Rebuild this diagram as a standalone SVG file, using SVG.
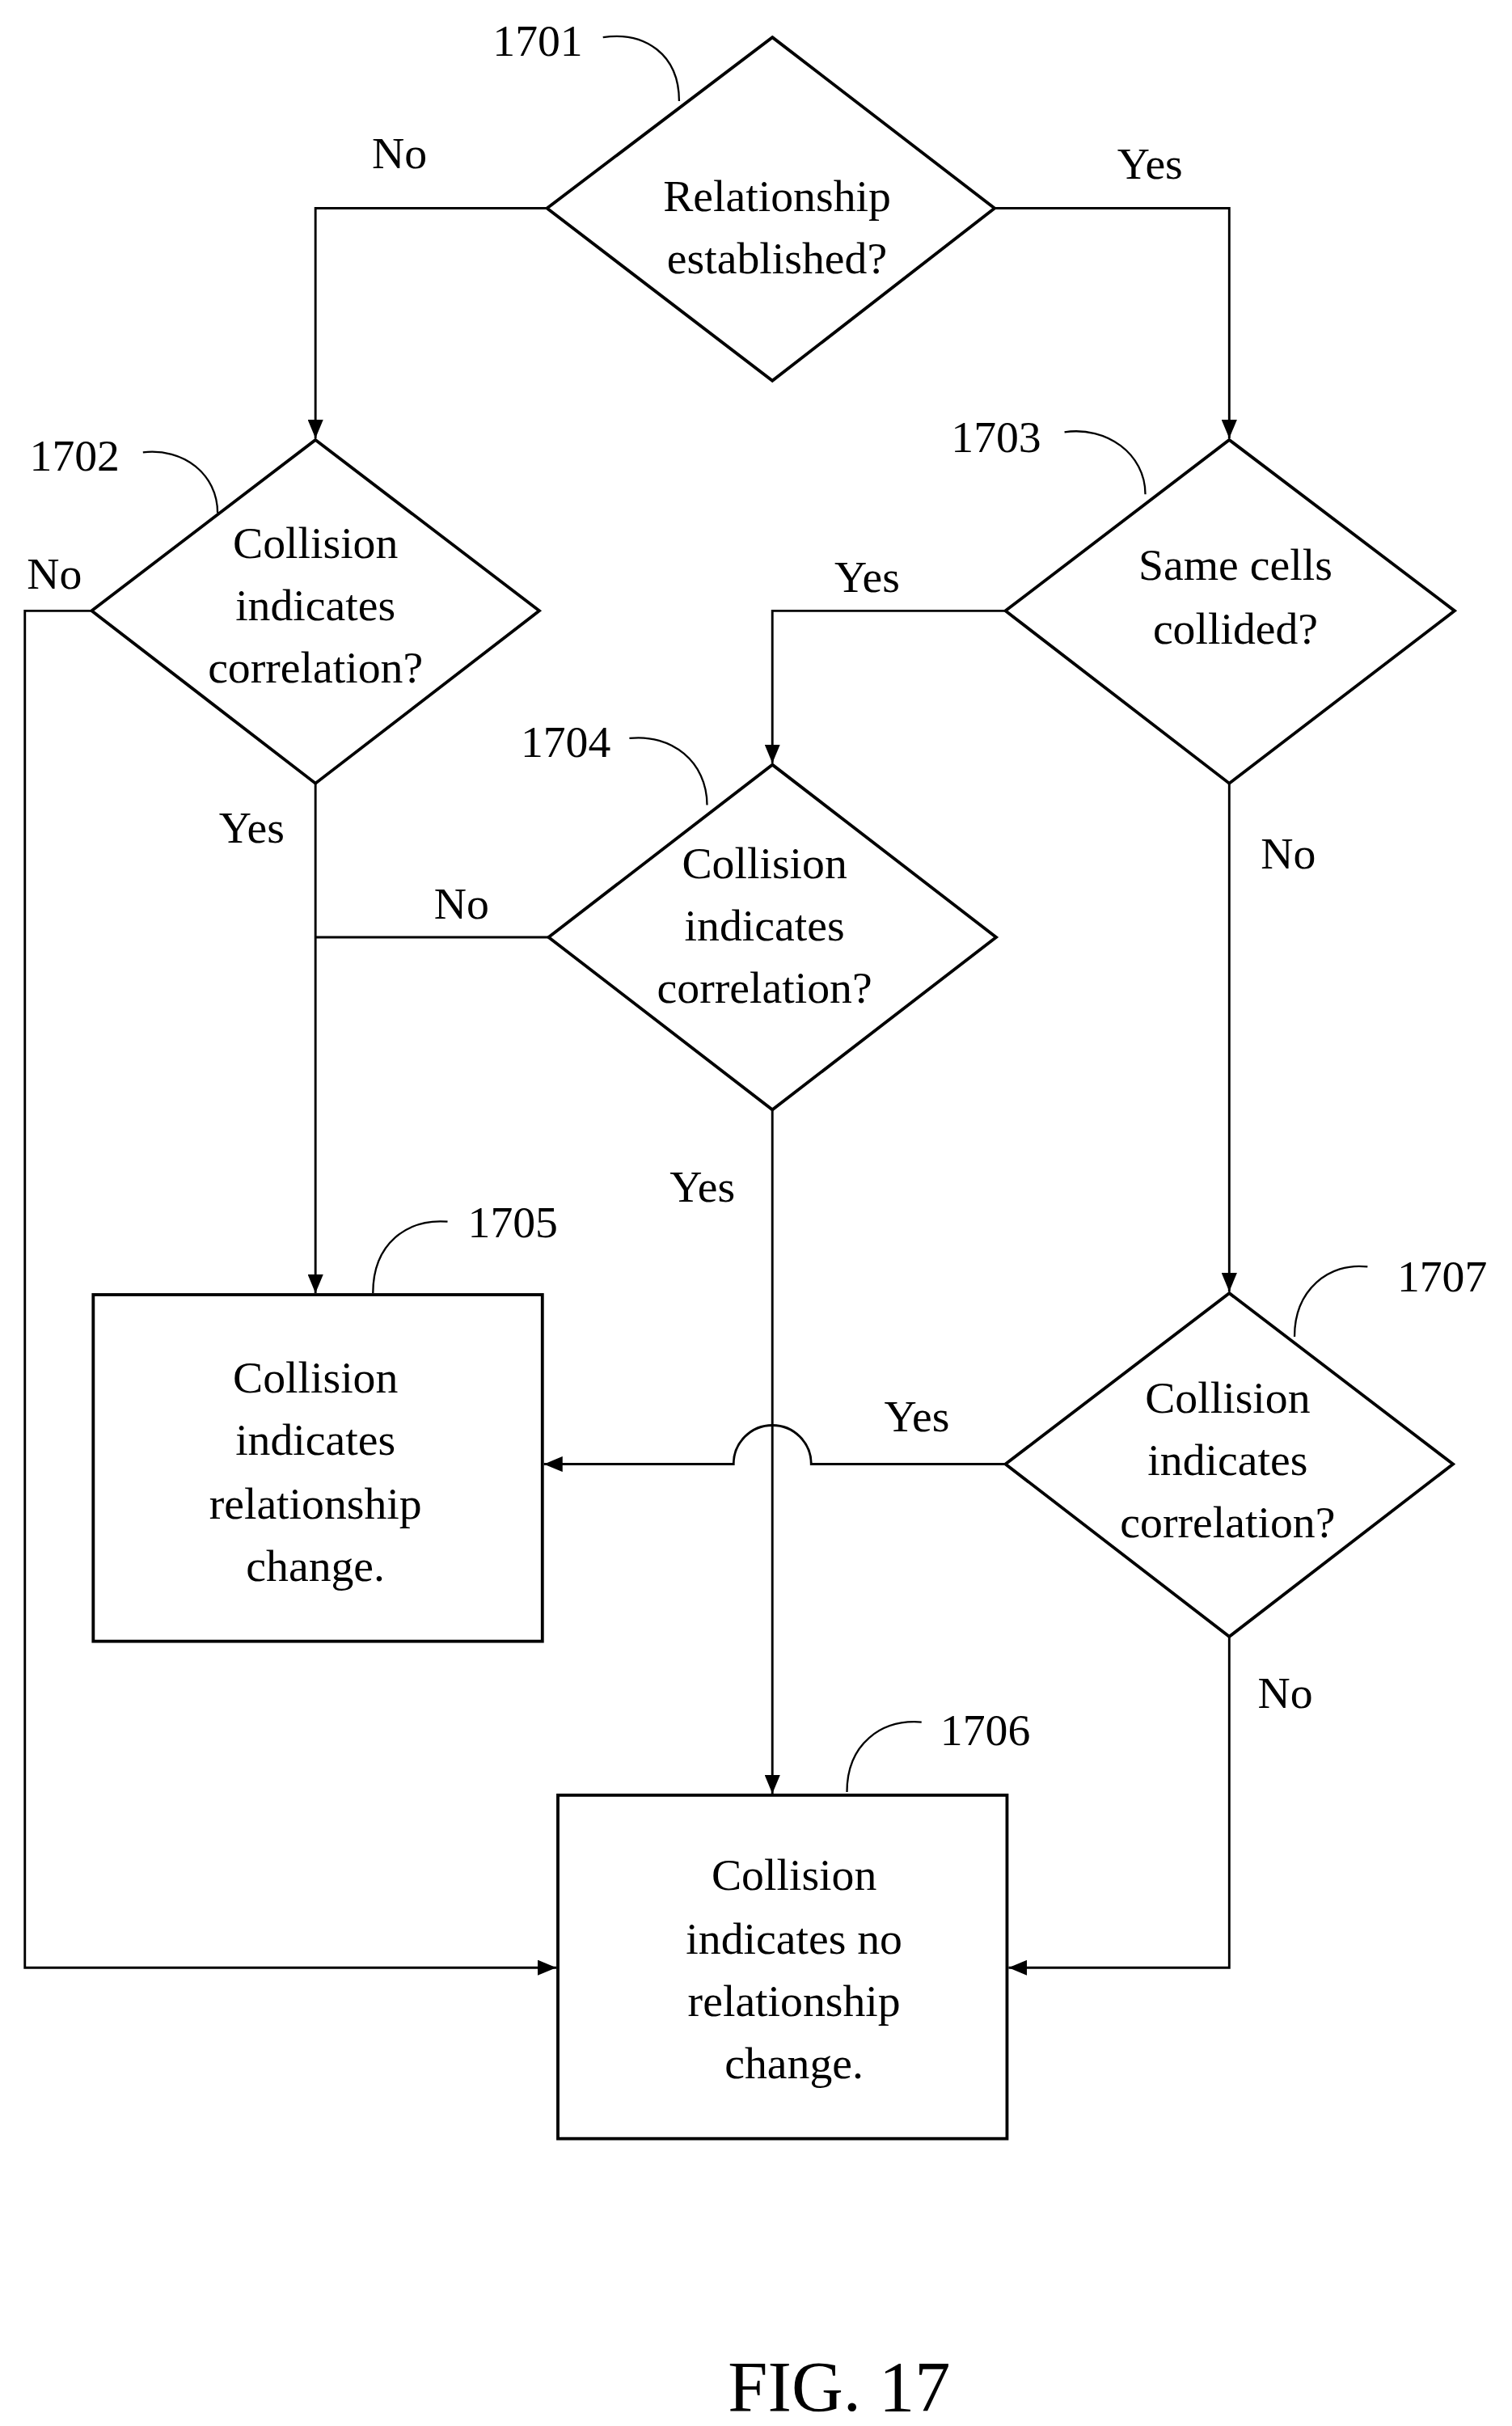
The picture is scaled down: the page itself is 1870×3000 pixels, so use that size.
<svg xmlns="http://www.w3.org/2000/svg" width="1870" height="3000" viewBox="0 0 1870 3000">
<defs>
<marker id="ah" markerWidth="12" markerHeight="10" refX="12" refY="5" orient="auto" markerUnits="userSpaceOnUse"><path d="M0,0 L12,5 L0,10 z" fill="#000"/></marker>
<style>
.s{fill:#fff;stroke:#000;stroke-width:2}
.c{fill:none;stroke:#000;stroke-width:1.5}
.l{fill:none;stroke:#000;stroke-width:1.2}
text{font-family:"Liberation Serif","Times New Roman",serif;font-size:29px;fill:#000}
.m{text-anchor:middle}
</style>
</defs>
<rect width="1870" height="3000" fill="#fff"/>
<g transform="scale(1.922)">
<g id="connectors">
<path class="c" d="M352,134 H203 V282" marker-end="url(#ah)"/>
<path class="c" d="M640,134 H791 V282" marker-end="url(#ah)"/>
<path class="c" d="M647,393 H497 V491" marker-end="url(#ah)"/>
<path class="c" d="M353,603 H203"/>
<path class="c" d="M203,504 V832" marker-end="url(#ah)"/>
<path class="c" d="M59,393 H16 V1266 H358" marker-end="url(#ah)"/>
<path class="c" d="M497,714 V1154" marker-end="url(#ah)"/>
<path class="c" d="M791,504 V831" marker-end="url(#ah)"/>
<path class="c" d="M647,942 H522 A25,25 0 0 0 472,942 H350" marker-end="url(#ah)"/>
<path class="c" d="M791,1053 V1266 H649" marker-end="url(#ah)"/>
<text x="257" y="108" class="m">No</text>
<text x="740" y="115" class="m">Yes</text>
<text x="558" y="381" class="m">Yes</text>
<text x="297" y="591" class="m">No</text>
<text x="162" y="542" class="m">Yes</text>
<text x="35" y="379" class="m">No</text>
<text x="452" y="773" class="m">Yes</text>
<text x="829" y="559" class="m">No</text>
<text x="590" y="921" class="m">Yes</text>
<text x="827" y="1099" class="m">No</text>
</g>
<g id="n1701">
<polygon class="s" points="497,24 640,134 497,245 352,134"/>
<text x="500" y="136" class="m">Relationship</text>
<text x="500" y="176" class="m">established?</text>
<text x="346" y="36" class="m">1701</text>
<path class="l" d="M388,24 C415,20 437,35 437,65"/>
</g>
<g id="n1702">
<polygon class="s" points="203,283 347,393 203,504 59,393"/>
<text x="203" y="359" class="m">Collision</text>
<text x="203" y="399" class="m">indicates</text>
<text x="203" y="439" class="m">correlation?</text>
<text x="48" y="303" class="m">1702</text>
<path class="l" d="M92,291 C118,288 140,305 140,330"/>
</g>
<g id="n1703">
<polygon class="s" points="791,283 936,393 791,504 647,393"/>
<text x="795" y="373" class="m">Same cells</text>
<text x="795" y="414" class="m">collided?</text>
<text x="641" y="291" class="m">1703</text>
<path class="l" d="M685,278 C712,274 737,292 737,318"/>
</g>
<g id="n1704">
<polygon class="s" points="497,492 641,603 497,714 353,603"/>
<text x="492" y="565" class="m">Collision</text>
<text x="492" y="605" class="m">indicates</text>
<text x="492" y="645" class="m">correlation?</text>
<text x="364" y="487" class="m">1704</text>
<path class="l" d="M405,475 C432,472 455,490 455,518"/>
</g>
<g id="n1707">
<polygon class="s" points="791,832 935,942 791,1053 647,942"/>
<text x="790" y="909" class="m">Collision</text>
<text x="790" y="949" class="m">indicates</text>
<text x="790" y="989" class="m">correlation?</text>
<text x="928" y="831" class="m">1707</text>
<path class="l" d="M880,815 C855,812 833,830 833,860"/>
</g>
<g id="n1705">
<rect class="s" x="60" y="833" width="289" height="223"/>
<text x="203" y="896" class="m">Collision</text>
<text x="203" y="936" class="m">indicates</text>
<text x="203" y="977" class="m">relationship</text>
<text x="203" y="1017" class="m">change.</text>
<text x="330" y="796" class="m">1705</text>
<path class="l" d="M288,786 C262,784 240,800 240,832"/>
</g>
<g id="n1706">
<rect class="s" x="359" y="1155" width="289" height="221"/>
<text x="511" y="1216" class="m">Collision</text>
<text x="511" y="1257" class="m">indicates no</text>
<text x="511" y="1297" class="m">relationship</text>
<text x="511" y="1337" class="m">change.</text>
<text x="634" y="1123" class="m">1706</text>
<path class="l" d="M593,1108 C567,1106 545,1122 545,1153"/>
</g>
<text x="540" y="1551" class="m" style="font-size:46px">FIG. 17</text>
</g>
</svg>
